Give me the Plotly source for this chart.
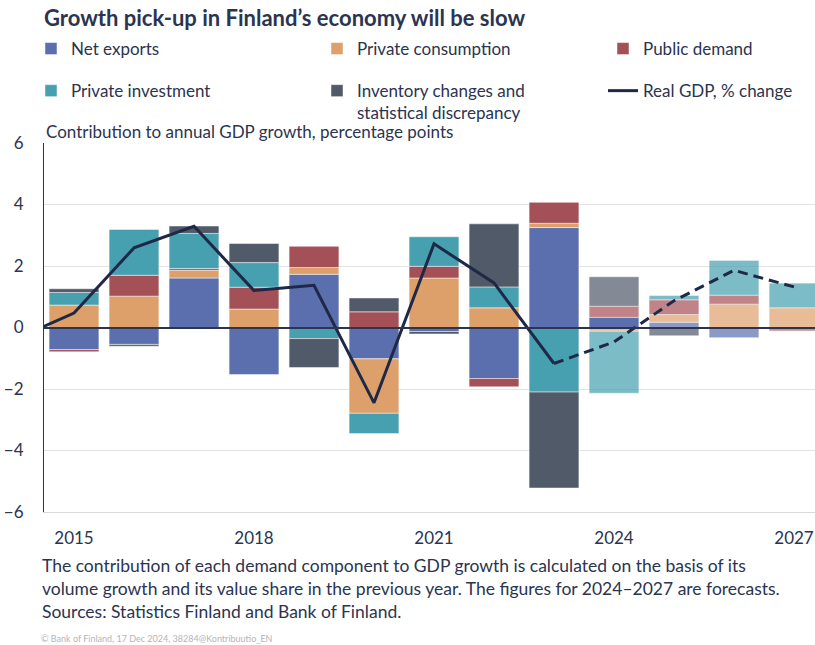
import plotly.graph_objects as go

# ---- data ----
years = [2015, 2016, 2017, 2018, 2019, 2020, 2021, 2022, 2023, 2024, 2025, 2026, 2027]
net_exports = [-0.72, -0.55, 1.61, -1.53, 1.73, -1.02, -0.13, -1.66, 3.25, 0.33, 0.17, -0.33, -0.04]
private_consumption = [0.73, 1.02, 0.25, 0.60, 0.22, -1.77, 1.61, 0.64, 0.14, -0.12, 0.25, 0.76, 0.64]
public_demand = [-0.07, 0.68, 0.06, 0.71, 0.69, 0.51, 0.38, -0.27, 0.68, 0.36, 0.48, 0.29, -0.07]
private_investment = [0.41, 1.49, 1.14, 0.80, -0.36, -0.66, 0.96, 0.68, -2.10, -2.02, 0.14, 1.14, 0.81]
inventory = [0.12, -0.06, 0.24, 0.62, -0.94, 0.45, -0.08, 2.05, -3.12, 0.96, -0.27, 0.00, 0.00]

gdp_years = [2014, 2015, 2016, 2017, 2018, 2019, 2020, 2021, 2022, 2023, 2024, 2025, 2026, 2027]
gdp = [-0.4, 0.47, 2.59, 3.29, 1.20, 1.37, -2.45, 2.72, 1.45, -1.17, -0.47, 0.87, 1.86, 1.32]

forecast_start = 2024
tick_years = [2015, 2018, 2021, 2024, 2027]

TEXT = "#2b3450"
FONT = "Lato"

# name, values, colour, legend column
series = [
    ("Net exports", net_exports, "#5b6fae", "legend"),
    ("Private consumption", private_consumption, "#dea06b", "legend2"),
    ("Public demand", public_demand, "#a45057", "legend3"),
    ("Private investment", private_investment, "#46a0b0", "legend"),
    ("Inventory changes and<br>statistical discrepancy", inventory, "#505a69", "legend2"),
]

fig = go.Figure()
for i, (name, vals, color, leg) in enumerate(series):
    first_fc = forecast_start + 1 if name == "Net exports" else forecast_start
    opac = [0.7 if y >= first_fc else 1.0 for y in years]
    fig.add_trace(go.Bar(
        x=years, y=vals, name=name, legend=leg, legendgroup=f"g{i}",
        marker=dict(color=color, opacity=opac,
                    line=dict(color="rgba(255,255,255,0.6)", width=0.8)),
        hoverinfo="x+y+name",
    ))

split = gdp_years.index(forecast_start - 1)
fig.add_trace(go.Scatter(
    x=gdp_years[:split + 1], y=gdp[:split + 1], mode="lines",
    name="Real GDP, % change", legend="legend3", legendgroup="gdp",
    line=dict(color="#1f2947", width=3),
))
fig.add_trace(go.Scatter(
    x=gdp_years[split:], y=gdp[split:], mode="lines", showlegend=False,
    legend="legend3", legendgroup="gdp",
    line=dict(color="#1f2947", width=3, dash="10px,6px"),
))

# Body margin is removed below (post_script), so figure px == window px.
W, H = 815, 645
PLOT_L, PLOT_T, PLOT_B = 44, 143, 512      # window pixels
ML, MT = PLOT_L, PLOT_T
MB = H - PLOT_B
MR = 0
pw, ph = W - ML - MR, H - MT - MB


def px_x(x):  # window px -> paper fraction
    return (x - ML) / pw


def px_y(y):
    return (PLOT_B - y) / ph


def cx(x):  # window px -> container fraction
    return x / W


def cy(y):
    return 1 - y / H


xr = [years[0] - 0.5, years[-1] + 0.35]
boundaries = [y - 0.5 for y in tick_years[1:]]


def col_legend(text_x):
    return dict(orientation="v", xref="container", yref="container",
                x=cx(text_x - 40), xanchor="left", y=cy(31), yanchor="top",
                valign="top", tracegroupgap=17, traceorder="grouped",
                font=dict(size=17, color=TEXT), bgcolor="rgba(0,0,0,0)")


fig.update_layout(
    width=W, height=H,
    margin=dict(l=ML, r=MR, t=MT, b=MB, autoexpand=False),
    paper_bgcolor="white", plot_bgcolor="white",
    barmode="relative", bargap=0.17,
    font=dict(family=FONT, size=17, color=TEXT),
    title=dict(text="<b>Growth pick-up in Finland’s economy will be slow</b>",
               font=dict(size=22, color=TEXT, family=FONT),
               xref="container", yref="container",
               x=cx(44), xanchor="left", y=cy(18), yanchor="middle"),
    xaxis=dict(range=xr, tickvals=tick_years, showgrid=False, zeroline=False,
               showline=True, linecolor="#d9d9d9", linewidth=1,
               ticks="", ticklabelstandoff=11, automargin=False,
               ticklabeloverflow="allow",
               tickfont=dict(size=17, color=TEXT)),
    xaxis2=dict(range=xr, overlaying="x", anchor="free", position=0.5,
                side="bottom", tickvals=boundaries, ticks="inside", ticklen=5,
                tickcolor=TEXT, tickwidth=1, showticklabels=False,
                showgrid=True, gridcolor="#e8e8e8", gridwidth=1,
                showline=False, zeroline=False, automargin=False),
    yaxis=dict(range=[-6, 6], dtick=2, showgrid=True, gridcolor="#e3e3e3",
               gridwidth=1, showline=True, linecolor=TEXT, linewidth=1,
               zeroline=True, zerolinecolor=TEXT, zerolinewidth=1.5,
               zerolinelayer="above traces", ticks="", ticklabelstandoff=16,
               automargin=False, tickfont=dict(size=17, color=TEXT)),
    legend=col_legend(71),
    legend2=col_legend(357),
    legend3=col_legend(643),
    showlegend=True,
)

fig.add_annotation(text="Contribution to annual GDP growth, percentage points",
                   xref="paper", yref="paper", x=px_x(44), y=px_y(131),
                   xanchor="left", yanchor="middle", showarrow=False,
                   font=dict(size=17, color=TEXT))
fig.add_annotation(text=("The contribution of each demand component to GDP growth is calculated on the basis of its<br>"
                         "volume growth and its value share in the previous year. The figures for 2024–2027 are forecasts.<br>"
                         "Sources: Statistics Finland and Bank of Finland."),
                   xref="paper", yref="paper", x=px_x(40), y=px_y(553),
                   xanchor="left", yanchor="top", align="left", showarrow=False,
                   font=dict(size=17.5, color=TEXT))
fig.add_annotation(text="© Bank of Finland, 17 Dec 2024, 38284@Kontribuutio_EN",
                   xref="paper", yref="paper", x=px_x(39), y=px_y(638),
                   xanchor="left", yanchor="middle", showarrow=False,
                   font=dict(size=9, color="#b5b5b5"))

fig.write_html("out.html",
               config={"displayModeBar": False},
               post_script="document.body.style.margin='0';"
                           "document.body.style.overflow='hidden';")
